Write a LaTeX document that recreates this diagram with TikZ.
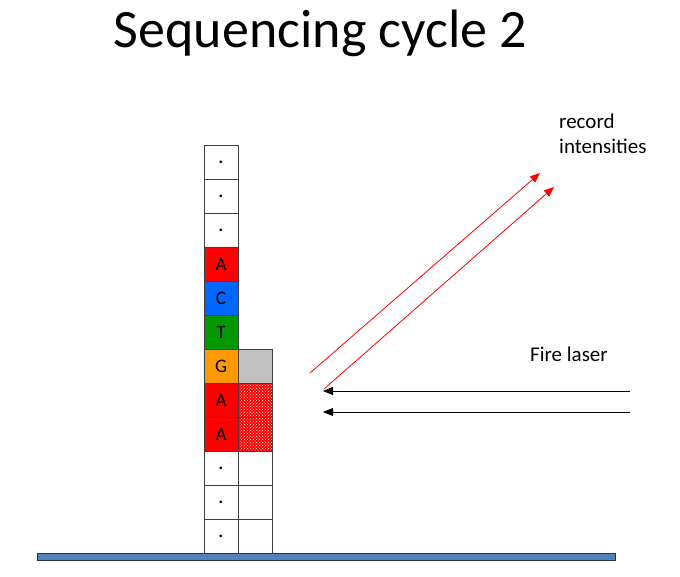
\documentclass[tikz,border=0pt]{standalone}
\usepackage{fontspec}
\setmainfont{Carlito}
\usetikzlibrary{arrows.meta,positioning,patterns}

\definecolor{nucA}{RGB}{255,0,0}
\definecolor{nucC}{RGB}{0,102,255}
\definecolor{nucT}{RGB}{0,153,0}
\definecolor{nucG}{RGB}{255,153,0}
\definecolor{pending}{RGB}{192,192,192}
\definecolor{slide}{RGB}{79,129,189}

\begin{document}
\begin{tikzpicture}[x=1pt, y=1pt, >={Triangle[length=10pt,width=8pt]},
  cell/.style={draw=black!75, line width=0.8pt, minimum size=34pt, inner sep=0pt, outer sep=0pt, font=\fontsize{19}{21}\selectfont},
  blank/.style={cell, text depth=0pt, font=\fontsize{22}{24}\selectfont, xshift=0pt},
  label text/.style={font=\fontsize{21}{25}\selectfont, inner sep=0pt}]
\path[use as bounding box] (0,0) rectangle (680,-576);
\node[font=\fontsize{54}{60}\selectfont, anchor=base, inner sep=0pt] (title) at (320.5,-47) {Sequencing cycle 2};
% template strand
\node[blank] (T1) at (221,-162) {.\hspace{11pt}};
\node[blank, below=0pt of T1] (T2) {.\hspace{11pt}};
\node[blank, below=0pt of T2] (T3) {.\hspace{11pt}};
\node[cell, fill=nucA, below=0pt of T3] (T4) {A};
\node[cell, fill=nucC, below=0pt of T4] (T5) {C};
\node[cell, fill=nucT, below=0pt of T5] (T6) {T};
\node[cell, fill=nucG, below=0pt of T6] (T7) {G};
\node[cell, fill=nucA, below=0pt of T7] (T8) {A};
\node[cell, fill=nucA, below=0pt of T8] (T9) {A};
\node[blank, below=0pt of T9] (T10) {.\hspace{11pt}};
\node[blank, below=0pt of T10] (T11) {.\hspace{11pt}};
\node[blank, below=0pt of T11] (T12) {.\hspace{11pt}};
% growing strand
\node[cell, fill=pending, right=0pt of T7] (S7) {};
\node[cell, fill=nucA, right=0pt of T8] (S8) {};
\node[cell, fill=nucA, right=0pt of T9] (S9) {};
\path[pattern=crosshatch dots, pattern color=white] (S8.north west) rectangle (S9.south east);
\draw[draw=black!75, line width=0.8pt] (S8.north west) rectangle (S8.south east) (S9.north west) rectangle (S9.south east);
\node[cell, right=0pt of T10] (S10) {};
\node[cell, right=0pt of T11] (S11) {};
\node[cell, right=0pt of T12] (S12) {};
% slide
\node[draw=black!80, fill=slide, line width=0.8pt, minimum width=578pt, minimum height=7pt, inner sep=0pt, anchor=north west] (base) at (37,-553) {};
% laser and emission
\coordinate (laserA) at (630,-391);
\coordinate (hitA) at (323,-391);
\coordinate (laserB) at (630,-412);
\coordinate (hitB) at (323,-412);
\coordinate (emitA) at (310,-373);
\coordinate (camA) at (540,-173);
\coordinate (emitB) at (324,-389);
\coordinate (camB) at (554,-187);
\draw[->, line width=0.8pt] (laserA) -- (hitA);
\draw[->, line width=0.8pt] (laserB) -- (hitB);
\draw[->, red, line width=0.8pt] (emitA) -- (camA);
\draw[->, red, line width=0.8pt] (emitB) -- (camB);
\node[label text, anchor=base west] (fire) at (530,-361) {Fire laser};
\node[label text, align=left, anchor=north west] (record) at (559,-113.5) {record\\intensities};
\end{tikzpicture}
\end{document}
